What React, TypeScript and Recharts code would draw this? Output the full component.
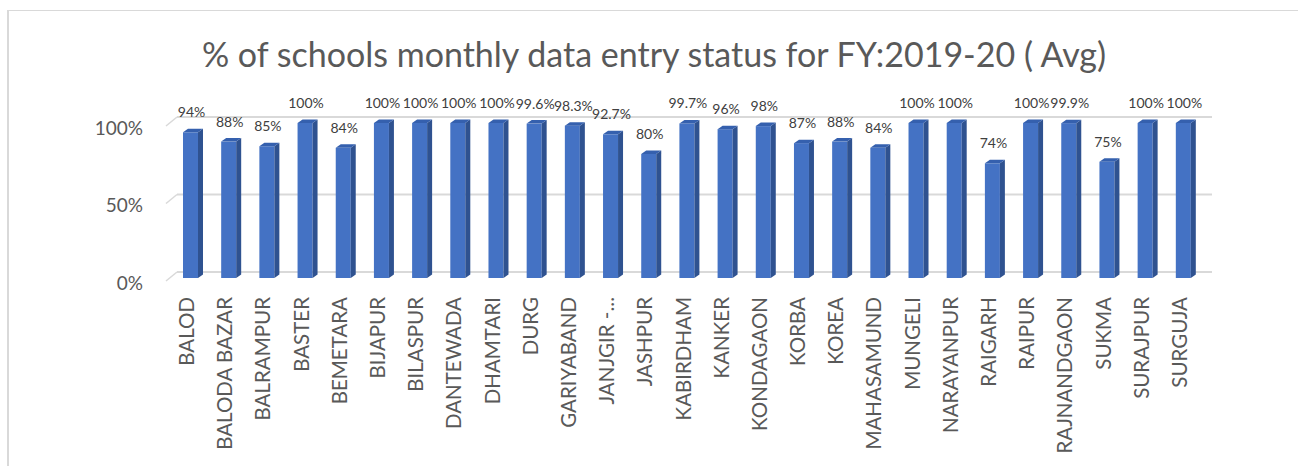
import React from "react";
import { BarChart, Bar, XAxis, YAxis, CartesianGrid, LabelList } from "recharts";

const districts = [
  "BALOD", "BALODA BAZAR", "BALRAMPUR", "BASTER", "BEMETARA", "BIJAPUR", "BILASPUR",
  "DANTEWADA", "DHAMTARI", "DURG", "GARIYABAND", "JANJGIR -...", "JASHPUR", "KABIRDHAM",
  "KANKER", "KONDAGAON", "KORBA", "KOREA", "MAHASAMUND", "MUNGELI", "NARAYANPUR",
  "RAIGARH", "RAIPUR", "RAJNANDGAON", "SUKMA", "SURAJPUR", "SURGUJA",
];
const avgPercent = [
  94, 88, 85, 100, 84, 100, 100, 100, 100, 99.6, 98.3, 92.7, 80, 99.7, 96, 98, 87, 88, 84,
  100, 100, 74, 100, 99.9, 75, 100, 100,
];
const yTicks = [0, 50, 100];
const title = "% of schools monthly data entry status for FY:2019-20 ( Avg)";

const data = districts.map((d, i) => ({ district: d, value: avgPercent[i] }));

const FONT = "Lato, 'Noto Sans', sans-serif";
const DX = 5;
const DY = 3.5;

const Bar3D = (props: any) => {
  const { x, y, width, height } = props;
  if (height == null || width == null) return null;
  return (
    <g>
      <rect x={x} y={y} width={width} height={height} fill="#4472C4" />
      <polygon
        points={`${x + width},${y} ${x + width + DX},${y - DY} ${x + width + DX},${y + height - DY} ${x + width},${y + height}`}
        fill="#2F5290"
      />
      <polygon
        points={`${x},${y} ${x + DX},${y - DY} ${x + width + DX},${y - DY} ${x + width},${y}`}
        fill="#3560AE"
      />
    </g>
  );
};

const gridLine = (p: any) => {
  const { x1, x2, y1 } = p;
  const by = y1 - 6;
  const bx1 = x1 + 6;
  const bx2 = x2 + 10;
  return (
    <g key={p.key}>
      <line x1={bx1} y1={by} x2={bx2} y2={by} stroke="#D9D9D9" strokeWidth={2} />
      <line x1={bx1} y1={by} x2={bx1 - 11} y2={by + 9} stroke="#D9D9D9" strokeWidth={1.5} />
    </g>
  );
};

const XTick = (p: any) => {
  const { x, y, payload } = p;
  const tx = x - 4;
  return (
    <text
      x={tx}
      y={y}
      transform={`rotate(-90, ${tx}, ${y})`}
      textAnchor="end"
      dominantBaseline="central"
      fill="#595959"
      fontSize={20.5}
      fontFamily={FONT}
    >
      {payload.value}
    </text>
  );
};

const ValueLabel = (p: any) => {
  const { x, y, width, value } = p;
  return (
    <text
      x={x + width / 2 + 1}
      y={y - 15}
      textAnchor="middle"
      fill="#404040"
      fontSize={14}
      fontFamily={FONT}
    >
      {`${value}%`}
    </text>
  );
};

export default function App() {
  return (
    <div
      style={{
        position: "absolute",
        left: 0,
        top: 0,
        width: 1298,
        height: 466,
        overflow: "hidden",
        background: "#fff",
      }}
    >
      <div
        style={{
          position: "absolute",
          left: 7,
          top: 10,
          width: 1298,
          height: 466,
          borderLeft: "2px solid #D9D9D9",
          borderTop: "1px solid #D9D9D9",
        }}
      />
      <svg style={{ position: "absolute", left: 0, top: 0 }} width={1298} height={100}>
        <text
          x={654}
          y={67}
          textAnchor="middle"
          fill="#595959"
          fontSize={34}
          fontFamily={FONT}
        >
          {title}
        </text>
      </svg>
      <div style={{ position: "absolute", left: 0, top: 0 }}>
        <BarChart
          width={1298}
          height={466}
          data={data}
          margin={{ top: 123, right: 96, left: 111, bottom: 18 }}
          barSize={15}
        >
          <CartesianGrid vertical={false} horizontal={gridLine} />
          <YAxis
            width={60}
            domain={[0, 100]}
            ticks={yTicks}
            axisLine={false}
            tickLine={false}
            tickSize={0}
            tickMargin={28}
            tickFormatter={(v: number) => `${v}%`}
            tick={{ fill: "#595959", fontSize: 19, fontFamily: FONT, dy: 5 }}
          />
          <XAxis
            dataKey="district"
            interval={0}
            height={170}
            axisLine={false}
            tickLine={false}
            tickSize={0}
            tickMargin={19}
            tick={<XTick />}
          />
          <Bar dataKey="value" shape={<Bar3D />} isAnimationActive={false}>
            <LabelList dataKey="value" content={<ValueLabel />} />
          </Bar>
        </BarChart>
      </div>
    </div>
  );
}
